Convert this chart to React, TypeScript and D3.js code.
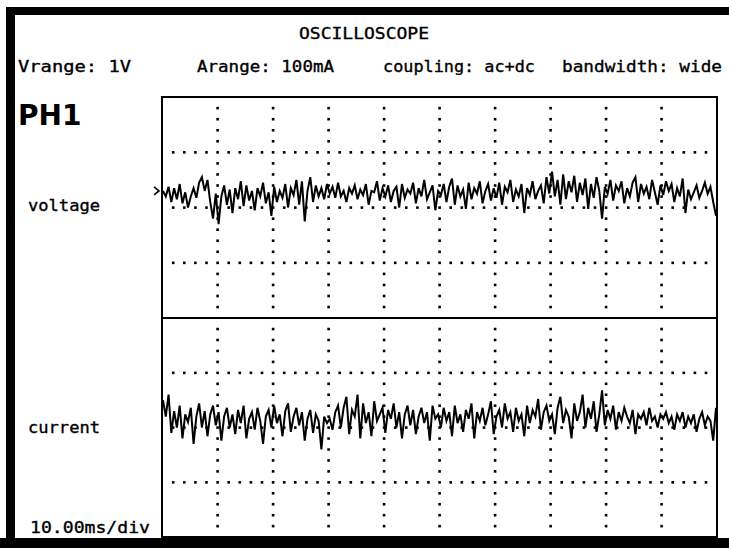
import React from "react";
import * as d3 from "d3";

const W = 729;
const H = 548;

// Header texts
const titleText = "OSCILLOSCOPE";
const headerLabels = ["Vrange: 1V", "Arange: 100mA", "coupling: ac+dc", "bandwidth: wide"];
const channelName = "PH1";
const traceNames = ["voltage", "current"];
const timebase = "10.00ms/div";

// Voltage trace (mV), panel spans -400..400 mV
const voltage = [
  60, 40, 75, 20, 70, 30, 85, 15, 55, 0, 40, 70, 35, 90, 110, 60, 100, 20, -40, 50,
  -60, 40, 80, 10, 65, -20, 70, 30, 95, 5, 80, 25, 60, -10, 70, 40, 90, 15, 55, -30,
  75, 20, 60, 35, 85, 0, 70, 45, 100, 10, 95, -50, 60, 110, 20, 80, 40, 70, 30, 85,
  50, 75, 35, 90, 40, 60, 20, 70, 50, 80, 30, 65, 45, 85, 10, 60, 55, 95, 25, 70,
  40, 80, 20, 60, 75, 0, 85, 35, 65, 50, 90, 15, 70, 40, 100, 30, 55, 80, -10, 60,
  45, 85, 20, 75, 105, 10, 80, 40, 65, -5, 90, 30, 70, 50, 95, 15, 60, 85, 25, 70,
  35, 90, 10, 75, 55, 100, 20, 65, 40, 85, -20, 70, 45, 95, 30, 60, 80, 15, 110, 50,
  130, 40, 100, 10, 120, 30, 95, 55, 115, 20, 90, 45, 105, -5, 85, 35, 110, 60, -40, 75,
  50, 100, 25, 80, 60, 95, 15, 70, 40, 90, 110, 20, 85, 50, 75, 30, 100, 55, 10, 80,
  45, 95, 60, 85, 20, 70, 40, 105, -20, 65, 30, 55, 80, 35, 60, 90, 50, 75, 20, -30,
];

// Current trace (mA), panel spans -100..100 mA
const current = [
  25, 10, 30, -5, 15, 0, 20, -10, 12, 5, 18, -15, 10, 22, 0, 15, -8, 12, 20, 2,
  14, -12, 10, 18, 0, 12, -6, 16, 4, 20, -10, 8, 14, -2, 18, 6, -15, 10, 16, 0,
  20, 4, 12, -8, 15, 22, -4, 10, 18, 2, 14, -12, 8, 16, -5, 12, 6, -20, 10, 4,
  8, -2, 14, 20, 0, 18, 28, -6, 16, 10, 30, -10, 22, 4, 14, -8, 24, 6, 12, 18,
  -5, 16, 8, 22, 0, 14, -10, 12, 20, 2, 16, -6, 10, 18, 4, 14, -12, 20, 8, 12,
  0, 18, 6, 14, -8, 20, 4, 12, -4, 16, 8, 22, -10, 14, 6, 18, 2, 12, 24, -6,
  10, 16, 0, 22, 8, 14, -4, 18, 6, 12, -8, 20, 4, 16, 10, 26, -2, 14, 20, 6,
  12, -6, 18, 28, 4, 16, 10, -10, 22, 6, 14, 30, 0, 18, 8, 24, -4, 12, 34, 2,
  16, 8, 20, -2, 14, 6, 18, 10, 4, 16, -6, 12, 8, 14, 2, 18, 6, 10, 0, 12,
  8, 14, 4, 10, -2, 12, 6, 14, 0, 10, 4, 12, -4, 8, 14, 2, 10, 6, -12, 18,
];

const groundMarkV = 60; // mV level of the ">" marker

const xDivs = d3.range(1, 10);
const yDivs = [1, 2, 3];

const PL = 162, PR = 717, PT = 97, PM = 318, PB = 537;

export default function App() {
  const xDiv = d3.scaleLinear().domain([0, 10]).range([PL, PR]);
  const yTopDiv = d3.scaleLinear().domain([0, 4]).range([PT, PM]);
  const yBotDiv = d3.scaleLinear().domain([0, 4]).range([PM, PB]);

  const yV = d3.scaleLinear().domain([-400, 400]).range([PM, PT]);
  const yA = d3.scaleLinear().domain([-100, 100]).range([PB, PM]);
  const xV = d3.scaleLinear().domain([0, voltage.length - 1]).range([PL + 1, PR - 1]);
  const xA = d3.scaleLinear().domain([0, current.length - 1]).range([PL + 1, PR - 1]);

  const lineV = d3.line<number>().x((_, i) => xV(i)).y((d) => yV(d));
  const lineA = d3.line<number>().x((_, i) => xA(i)).y((d) => yA(d));

  const dots: { x: number; y: number }[] = [];
  const panels = [yTopDiv, yBotDiv];
  panels.forEach((ys) => {
    xDivs.forEach((k) => {
      for (let j = 1; j < 20; j++) dots.push({ x: xDiv(k), y: ys(j / 5) });
    });
    yDivs.forEach((k) => {
      for (let j = 1; j < 50; j++) {
        if (j % 5 === 0) continue;
        dots.push({ x: xDiv(j / 5), y: ys(k) });
      }
    });
  });

  const mono = "'DejaVu Sans Mono', monospace";
  const headerX = [18, 197, 383, 562];
  const headerW = [113, 137, 152, 160];

  return (
    <div style={{ position: "fixed", left: 0, top: 0 }}>
      <svg width={W} height={H} style={{ display: "block", background: "#fff" }}>
        {/* frame */}
        <rect x={7} y={7} width={W - 7} height={8} fill="#000" />
        <rect x={6} y={7} width={9} height={H - 7} fill="#000" />
        <rect x={0} y={538} width={W} height={10} fill="#000" />

        {/* texts */}
        <g fill="#000" stroke="#000" strokeWidth={0.35}>
          <text x={364} y={39} textAnchor="middle" fontFamily={mono} fontSize={16} textLength={130} lengthAdjust="spacingAndGlyphs">{titleText}</text>
          {headerLabels.map((t, i) => (
            <text key={t} x={headerX[i]} y={72} fontFamily={mono} fontSize={16} textLength={headerW[i]} lengthAdjust="spacingAndGlyphs">{t}</text>
          ))}
          <text x={28} y={211} fontFamily={mono} fontSize={16} textLength={72} lengthAdjust="spacingAndGlyphs">{traceNames[0]}</text>
          <text x={28} y={433} fontFamily={mono} fontSize={16} textLength={72} lengthAdjust="spacingAndGlyphs">{traceNames[1]}</text>
          <text x={30} y={533} fontFamily={mono} fontSize={16} textLength={120} lengthAdjust="spacingAndGlyphs">{timebase}</text>
        </g>
        <text x={18} y={125} fontFamily="'DejaVu Sans', sans-serif" fontWeight="bold" fontSize={28}>{channelName}</text>

        {/* grid dots */}
        {dots.map((d, i) => (
          <rect key={i} x={d.x - 1.2} y={d.y - 1.2} width={2.6} height={2.6} fill="#000" />
        ))}

        {/* plot boxes */}
        <rect x={PL} y={PT} width={PR - PL} height={PB - PT} fill="none" stroke="#000" strokeWidth={2} />
        <line x1={PL} x2={PR} y1={PM} y2={PM} stroke="#000" strokeWidth={2} />

        {/* ground marker */}
        <path d={`M${PL - 8},${yV(groundMarkV) - 4} L${PL - 3},${yV(groundMarkV)} L${PL - 8},${yV(groundMarkV) + 4}`} fill="none" stroke="#000" strokeWidth={1.6} />

        {/* traces */}
        <path d={lineV(voltage) || ""} fill="none" stroke="#000" strokeWidth={2} strokeLinejoin="miter" />
        <path d={lineA(current) || ""} fill="none" stroke="#000" strokeWidth={2} strokeLinejoin="miter" />
      </svg>
    </div>
  );
}
